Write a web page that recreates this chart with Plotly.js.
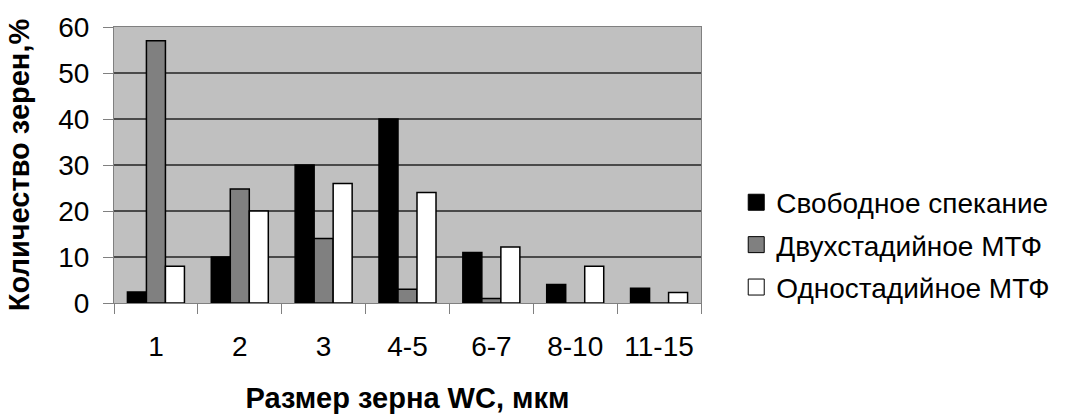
<!DOCTYPE html>
<html><head><meta charset="utf-8">
<script src="https://cdn.plot.ly/plotly-3.0.1.min.js"></script>
<style>body{margin:0;background:#fff}#c{width:1067px;height:414px}</style>
</head><body><div id="c"></div>
<script>
const categories = ["1","2","3","4-5","6-7","8-10","11-15"];
const seriesNames = ["Свободное спекание","Двухстадийное МТФ","Одностадийное МТФ"];
const free = [2.4, 10, 30, 40, 11, 4, 3.2];
const twoStage = [57, 24.8, 14, 3, 1, 0, 0];
const oneStage = [8, 20, 26, 24, 12.2, 8, 2.3];
const yTicks = [0,10,20,30,40,50,60];
const colors = ["#000000","#808080","#ffffff"];
const vals = [free, twoStage, oneStage];
const traces = vals.map((v,i)=>({
  type:"bar", x:categories, y:v, name:seriesNames[i], showlegend:false,
  marker:{color:colors[i], line:{color:"#000", width:1.5}}
}));
// legend entries with larger square swatches
vals.forEach((v,i)=>traces.push({
  type:"scatter", mode:"markers", x:[null], y:[null], name:seriesNames[i], legendgroup:"g"+i,
  marker:{symbol:"square", size:16, color:colors[i], line:{color:"#000", width:1}}
}));
const F = "Arial, 'Liberation Sans', sans-serif";
Plotly.newPlot("c", traces, {
  width:1067, height:414,
  margin:{l:114, r:364, t:27, b:111},
  paper_bgcolor:"#fff", plot_bgcolor:"#c0c0c0",
  barmode:"group", bargap:0.32, bargroupgap:0,
  font:{family:F, size:28, color:"#000"},
  xaxis:{type:"category", tickson:"boundaries", ticks:"outside", ticklen:10, tickcolor:"#808080",
    showline:true, linecolor:"#808080", mirror:true, showgrid:false, ticklabelstandoff:18,
    tickfont:{size:28}, title:{text:"<b>Размер зерна WC, мкм</b>", font:{size:29}, standoff:27}},
  yaxis:{range:[0,60], tickvals:yTicks, ticks:"outside", ticklen:10, tickcolor:"#808080",
    showline:true, linecolor:"#808080", mirror:true, gridcolor:"#4a4a4a", gridwidth:1.5,
    zeroline:false, tickfont:{size:28}, ticklabelstandoff:8,
    title:{text:"<b>Количество зерен,%</b>", font:{size:29}, standoff:20}},
  legend:{x:1.06, y:0.21, xanchor:"left", yanchor:"middle", font:{size:28}, tracegroupgap:3, itemwidth:30},
  showlegend:true
}, {staticPlot:true});
</script></body></html>
